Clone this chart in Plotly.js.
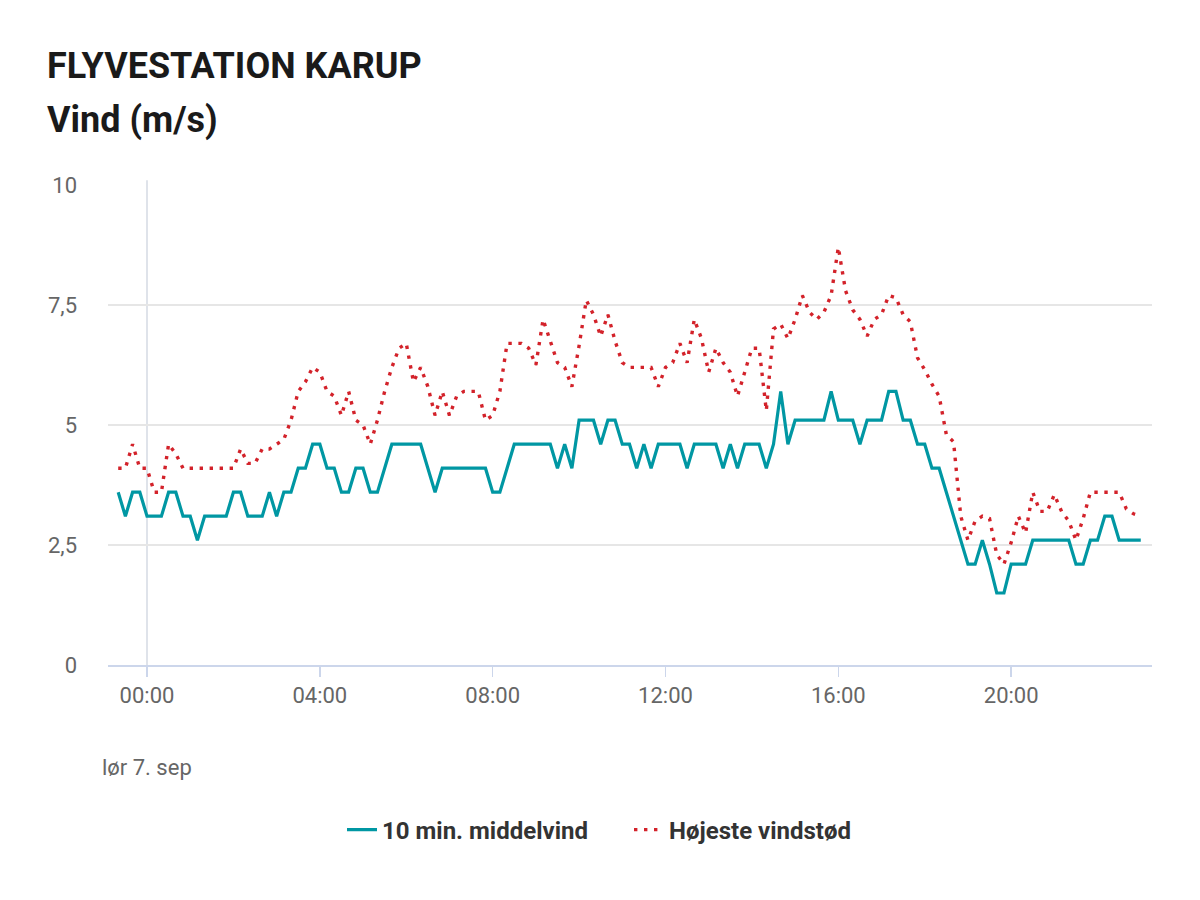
<!DOCTYPE html>
<html>
<head>
<meta charset="utf-8">
<script src="https://cdn.plot.ly/plotly-3.0.1.min.js"></script>
<style>
html,body{margin:0;padding:0;background:#fff;}
#chart{width:1200px;height:900px;}
</style>
</head>
<body>
<div id="chart"></div>
<script>
// Observation times: every 10 minutes from fre 6. sep 23:20 to lør 7. sep 23:00
const startTime = Date.UTC(2024, 8, 6, 23, 20);
const stepMinutes = 10;

// 10 min. middelvind (m/s)
const meanWind = [
  3.6,3.1,3.6,3.6,3.1,3.1,3.1,3.6,3.6,3.1,
  3.1,2.6,3.1,3.1,3.1,3.1,3.6,3.6,3.1,3.1,
  3.1,3.6,3.1,3.6,3.6,4.1,4.1,4.6,4.6,4.1,
  4.1,3.6,3.6,4.1,4.1,3.6,3.6,4.1,4.6,4.6,
  4.6,4.6,4.6,4.1,3.6,4.1,4.1,4.1,4.1,4.1,
  4.1,4.1,3.6,3.6,4.1,4.6,4.6,4.6,4.6,4.6,
  4.6,4.1,4.6,4.1,5.1,5.1,5.1,4.6,5.1,5.1,
  4.6,4.6,4.1,4.6,4.1,4.6,4.6,4.6,4.6,4.1,
  4.6,4.6,4.6,4.6,4.1,4.6,4.1,4.6,4.6,4.6,
  4.1,4.6,5.7,4.6,5.1,5.1,5.1,5.1,5.1,5.7,
  5.1,5.1,5.1,4.6,5.1,5.1,5.1,5.7,5.7,5.1,
  5.1,4.6,4.6,4.1,4.1,3.6,3.1,2.6,2.1,2.1,
  2.6,2.1,1.5,1.5,2.1,2.1,2.1,2.6,2.6,2.6,
  2.6,2.6,2.6,2.1,2.1,2.6,2.6,3.1,3.1,2.6,
  2.6,2.6,2.6
];

// Højeste vindstød (m/s)
const gustWind = [
  4.1,4.1,4.6,4.1,4.1,3.6,3.6,4.6,4.4,4.1,
  4.1,4.1,4.1,4.1,4.1,4.1,4.1,4.5,4.2,4.2,
  4.5,4.5,4.6,4.7,5.1,5.7,5.9,6.2,6.1,5.7,
  5.6,5.2,5.7,5.1,5.0,4.6,5.1,5.7,6.2,6.6,
  6.7,5.9,6.2,5.8,5.2,5.7,5.2,5.6,5.7,5.7,
  5.7,5.1,5.2,5.7,6.7,6.7,6.7,6.6,6.25,7.2,
  6.75,6.3,6.2,5.8,6.65,7.6,7.3,6.85,7.3,6.75,
  6.3,6.2,6.2,6.2,6.2,5.8,6.2,6.3,6.7,6.3,
  7.2,6.8,6.1,6.6,6.3,6.1,5.6,6.1,6.6,6.6,
  5.3,7.0,7.1,6.8,7.2,7.7,7.35,7.2,7.35,7.7,
  8.7,7.8,7.4,7.2,6.85,7.2,7.3,7.7,7.65,7.3,
  7.15,6.4,6.15,5.85,5.6,4.8,4.65,3.1,2.6,3.0,
  3.1,3.05,2.3,2.1,2.55,3.1,2.75,3.6,3.2,3.2,
  3.55,3.2,3.0,2.6,3.05,3.6,3.6,3.6,3.6,3.6,
  3.25,3.15,3.1
];

const yTickVals = [0, 2.5, 5, 7.5, 10];
const yTickText = ['0', '2,5', '5', '7,5', '10'];
const seriesNames = ['10 min. middelvind', 'Højeste vindstød'];

const times = meanWind.map((_, i) => startTime + i * stepMinutes * 60000);

const traces = [
  {
    x: times, y: meanWind, type: 'scatter', mode: 'lines',
    name: seriesNames[0],
    line: {color: '#0097a3', width: 3.2}
  },
  {
    x: times, y: gustWind, type: 'scatter', mode: 'lines',
    name: seriesNames[1],
    line: {color: '#d3222a', width: 3.4, dash: '3.4px,6.6px'}
  }
];

const layout = {
  width: 1200, height: 900,
  paper_bgcolor: '#ffffff', plot_bgcolor: '#ffffff',
  margin: {l: 108, r: 48, t: 185, b: 235, pad: 0},
  font: {family: 'Roboto, sans-serif', color: '#666666', size: 22},
  separators: ',.',
  title: {
    text: '<b>FLYVESTATION KARUP</b>',
    font: {family: 'Roboto, sans-serif', size: 36, color: '#1a1a1a'},
    x: 47 / 1200, xanchor: 'left', xref: 'container',
    y: 1 - 65 / 900, yanchor: 'middle', yref: 'container'
  },
  annotations: [
    {
      text: '<b>Vind (m/s)</b>', showarrow: false,
      xref: 'paper', yref: 'paper',
      x: (45 - 108) / 1044, xanchor: 'left',
      y: (665 - 120) / 480, yanchor: 'middle',
      font: {family: 'Roboto, sans-serif', size: 36, color: '#1a1a1a'}
    },
    {
      text: 'lør 7. sep', showarrow: false,
      xref: 'paper', yref: 'paper',
      x: (100 - 108) / 1044, xanchor: 'left',
      y: (665 - 767) / 480, yanchor: 'middle',
      font: {family: 'Roboto, sans-serif', size: 22, color: '#666666'}
    }
  ],
  shapes: [
    {
      type: 'line', xref: 'x', yref: 'paper',
      x0: Date.UTC(2024, 8, 7, 0, 0), x1: Date.UTC(2024, 8, 7, 0, 0),
      y0: 0, y1: 1.01,
      line: {color: '#dfe3ea', width: 2},
      layer: 'below'
    }
  ],
  xaxis: {
    type: 'date',
    range: [Date.UTC(2024, 8, 6, 23, 5, 50), Date.UTC(2024, 8, 7, 23, 15, 35)],
    tick0: Date.UTC(2024, 8, 7, 0, 0),
    dtick: 4 * 3600000,
    tickformat: '%H:%M',
    showgrid: false, zeroline: false,
    showline: true, linecolor: '#ccd6eb', linewidth: 1.5,
    ticks: 'outside', ticklen: 10, tickwidth: 1.5, tickcolor: '#ccd6eb',
    tickfont: {size: 22, color: '#666666'},
    fixedrange: true
  },
  yaxis: {
    range: [0, 10],
    tickvals: yTickVals, ticktext: yTickText,
    showgrid: true, gridcolor: '#e6e6e6', gridwidth: 1.5,
    zeroline: false, showline: false, ticks: '',
    ticklabelstandoff: 30,
    tickfont: {size: 22, color: '#666666'},
    fixedrange: true
  },
  showlegend: true,
  legend: {
    orientation: 'h',
    xref: 'container', yref: 'container',
    x: 342 / 1200, xanchor: 'left',
    y: 1 - 830 / 900, yanchor: 'middle',
    font: {family: 'Roboto, sans-serif', size: 24, color: '#333333', weight: 'bold'},
    itemwidth: 30,
    entrywidth: 242, entrywidthmode: 'pixels',
    tracegroupgap: 0
  }
};

Plotly.newPlot('chart', traces, layout, {displayModeBar: false, staticPlot: true});
</script>
</body>
</html>
